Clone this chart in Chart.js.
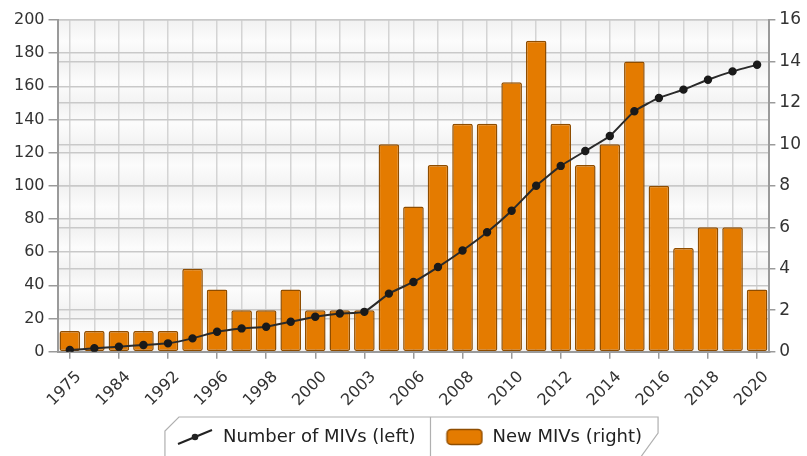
<!DOCTYPE html>
<html>
<head>
<meta charset="utf-8">
<script src="https://cdn.jsdelivr.net/npm/chart.js@4.4.1/dist/chart.umd.min.js"></script>
<style>
  html, body { margin: 0; padding: 0; background: #fff; }
  #wrap { width: 807px; height: 456px; position: relative; }
</style>
</head>
<body>
<div id="wrap"><canvas id="mivChart" width="807" height="456"></canvas></div>
<script>
// categories (only every other one is labelled on the axis)
const years = ['1975', '1980', '1984', '1988', '1992', '1994', '1996', '1997', '1998', '1999',
    '2000', '2002', '2003', '2005', '2006', '2007', '2008', '2009', '2010', '2011',
    '2012', '2013', '2014', '2015', '2016', '2017', '2018', '2019', '2020'];

// Number of MIVs (left axis)
const totalMivs = [1, 2, 3, 4, 5, 8, 12, 14, 15, 18, 21, 23, 24, 35, 42, 51, 61, 72, 85, 100,
    112, 121, 130, 145, 153, 158, 164, 169, 173];

// New MIVs (right axis)
const newMivs = [1, 1, 1, 1, 1, 4, 3, 2, 2, 3, 2, 2, 2, 10, 7, 9, 11, 11, 13, 15,
    11, 9, 10, 14, 8, 5, 6, 6, 3];

const leftTicks = [0, 20, 40, 60, 80, 100, 120, 140, 160, 180, 200];
const rightTicks = [0, 2, 4, 6, 8, 10, 12, 14, 16];

const FONT = "'DejaVu Sans', Verdana, sans-serif";
const ICON_W = 59;   // legend icon slot, icon sits at its right end
const ICON_GAP = ICON_W - 38;

// legend icons
function lineIcon() {
    const c = document.createElement('canvas');
    c.width = ICON_W; c.height = 18;
    const g = c.getContext('2d');
    g.translate(ICON_GAP, 0);
    g.strokeStyle = '#222';
    g.lineWidth = 2;
    g.beginPath(); g.moveTo(2, 16); g.lineTo(36, 2); g.stroke();
    g.fillStyle = '#222';
    g.beginPath(); g.arc(19, 9, 3.3, 0, Math.PI * 2); g.fill();
    return c;
}
function barIcon() {
    const c = document.createElement('canvas');
    c.width = ICON_W; c.height = 18;
    const g = c.getContext('2d');
    g.translate(ICON_GAP, 0);
    g.fillStyle = '#e47b00';
    g.strokeStyle = '#8f4d00';
    g.lineWidth = 1.5;
    g.beginPath();
    g.roundRect(1.5, 1.5, 35, 15, 4);
    g.fill(); g.stroke();
    return c;
}

// soft banded background in the plot area
const bandPlugin = {
    id: 'bands',
    beforeDraw(chart) {
        const { ctx, chartArea } = chart;
        const y = chart.scales.y1;
        ctx.save();
        for (let i = 0; i < rightTicks.length - 1; i++) {
            const top = y.getPixelForValue(rightTicks[i + 1]);
            const bot = y.getPixelForValue(rightTicks[i]);
            const grad = ctx.createLinearGradient(0, top, 0, bot);
            grad.addColorStop(0, '#f1f1f1');
            grad.addColorStop(0.5, '#fcfcfc');
            grad.addColorStop(1, '#f3f3f3');
            ctx.fillStyle = grad;
            ctx.fillRect(chartArea.left, top, chartArea.right - chartArea.left, bot - top);
        }
        ctx.restore();
    }
};

// frame around the legend (and nudge the legend a little to the left)
const legendBoxPlugin = {
    id: 'legendBox',
    afterLayout(chart) {
        if (chart.legend) {
            chart.legend.left -= 9;
            chart.legend.right -= 9;
        }
    },
    afterDraw(chart) {
        const lg = chart.legend;
        if (!lg || !lg.legendHitBoxes.length) return;
        const boxes = lg.legendHitBoxes;
        const ctx = chart.ctx;
        const last = boxes[boxes.length - 1];
        const left = boxes[0].left + ICON_GAP - 11;
        const right = last.left + last.width + 16;
        const top = boxes[0].top - 11;
        const bottom = chart.height + 2;
        ctx.save();
        ctx.strokeStyle = '#b0b0b0';
        ctx.lineWidth = 1.2;
        ctx.beginPath();
        ctx.moveTo(left, bottom);
        ctx.lineTo(left, top + 14);
        ctx.lineTo(left + 14, top);
        ctx.lineTo(right, top);
        ctx.lineTo(right, top + 16);
        ctx.lineTo(right - 18, bottom);
        ctx.stroke();
        const sepX = boxes[1].left + ICON_GAP - 15;
        ctx.beginPath();
        ctx.moveTo(sepX, top);
        ctx.lineTo(sepX, bottom);
        ctx.stroke();
        ctx.restore();
    }
};

const icons = [lineIcon(), barIcon()];

new Chart(document.getElementById('mivChart').getContext('2d'), {
    type: 'bar',
    data: {
        labels: years,
        datasets: [{
            type: 'line',
            label: 'Number of MIVs (left)',
            data: totalMivs,
            yAxisID: 'y',
            borderColor: '#2a2a2a',
            backgroundColor: '#1a1a1a',
            borderWidth: 2,
            pointRadius: 3.2,
            pointBackgroundColor: '#1a1a1a',
            pointBorderColor: '#1a1a1a',
            tension: 0.15
        }, {
            type: 'bar',
            label: 'New MIVs (right)',
            data: newMivs,
            yAxisID: 'y1',
            backgroundColor: '#e47b00',
            borderColor: '#8f4d00',
            borderWidth: 1.5,
            borderRadius: 2,
            borderSkipped: false,
            barPercentage: 0.84,
            categoryPercentage: 1.0
        }]
    },
    options: {
        responsive: false,
        animation: false,
        layout: { padding: { top: 20, left: 10, right: 2, bottom: 0 } },
        plugins: {
            tooltip: { enabled: false },
            legend: {
                position: 'bottom',
                labels: {
                    usePointStyle: true,
                    pointStyleWidth: ICON_W,
                    padding: 9,
                    color: '#222',
                    font: { family: FONT, size: 18 },
                    generateLabels(chart) {
                        return chart.data.datasets.map((ds, i) => ({
                            text: ds.label,
                            pointStyle: icons[i],
                            fillStyle: 'transparent',
                            strokeStyle: 'transparent',
                            lineWidth: 0,
                            datasetIndex: i,
                            fontColor: '#222'
                        }));
                    }
                }
            }
        },
        scales: {
            x: {
                offset: true,
                grid: {
                    offset: false,
                    color: '#d4d4d4',
                    lineWidth: 1.5,
                    tickLength: 7,
                    tickColor: ctx => (ctx.index % 2 === 0 ? '#9a9a9a' : 'rgba(0,0,0,0)')
                },
                border: { color: '#9a9a9a', width: 2 },
                ticks: {
                    autoSkip: false,
                    maxRotation: 45,
                    minRotation: 45,
                    color: '#333',
                    padding: 9,
                    labelOffset: 9,
                    font: { family: FONT, size: 16 },
                    callback: function (val, i) { return i % 2 === 0 ? this.getLabelForValue(val) : ''; }
                }
            },
            y: {
                position: 'left',
                min: 0,
                max: 200,
                grid: {
                    color: ctx => (ctx.tick && ctx.tick.value % 20 === 0 ? '#c9c9c9' : '#dcdcdc'),
                    lineWidth: 1.5,
                    tickLength: 9,
                    tickColor: '#9a9a9a'
                },
                border: {
                    color: '#9a9a9a',
                    width: 2,
                    dash: ctx => (ctx.tick && ctx.tick.value % 20 !== 0 ? [5, 4] : [])
                },
                ticks: {
                    stepSize: 10,
                    color: '#333',
                    padding: 4,
                    font: { family: FONT, size: 16 },
                    callback: v => (leftTicks.includes(v) ? v : '')
                }
            },
            y1: {
                position: 'right',
                min: 0,
                max: 16,
                grid: {
                    color: '#c9c9c9',
                    lineWidth: 1.5,
                    tickLength: 6,
                    tickColor: '#9a9a9a'
                },
                border: { color: '#9a9a9a', width: 2 },
                ticks: {
                    stepSize: 2,
                    color: '#333',
                    padding: 4,
                    font: { family: FONT, size: 17 },
                    callback: v => (rightTicks.includes(v) ? v : '')
                }
            }
        }
    },
    plugins: [bandPlugin, legendBoxPlugin]
});
</script>
</body>
</html>
